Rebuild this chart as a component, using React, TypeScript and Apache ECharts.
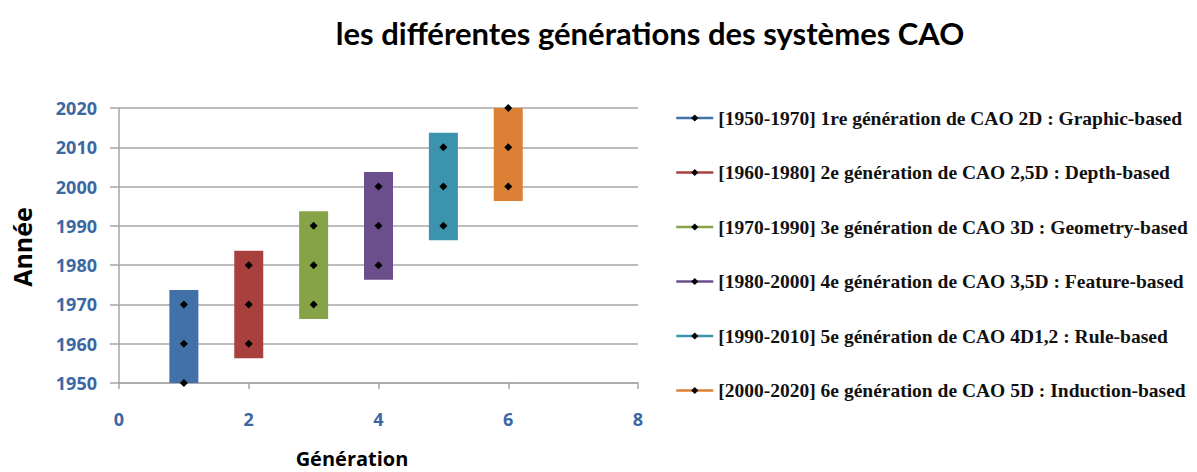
import React, { useEffect, useRef } from "react";
import * as echarts from "echarts";

const titleText = "les différentes générations des systèmes CAO";
const xAxisTitle = "Génération";
const yAxisTitle = "Année";

const generations = [1, 2, 3, 4, 5, 6];
const seriesNames = [
  "[1950-1970] 1re génération de CAO 2D : Graphic-based",
  "[1960-1980] 2e génération de CAO 2,5D : Depth-based",
  "[1970-1990] 3e génération de CAO 3D : Geometry-based",
  "[1980-2000] 4e génération de CAO 3,5D : Feature-based",
  "[1990-2010] 5e génération de CAO 4D1,2 : Rule-based",
  "[2000-2020] 6e génération de CAO 5D : Induction-based",
];
const seriesYears = [
  [1950, 1960, 1970],
  [1960, 1970, 1980],
  [1970, 1980, 1990],
  [1980, 1990, 2000],
  [1990, 2000, 2010],
  [2000, 2010, 2020],
];
const seriesColors = ["#4270a8", "#a8403e", "#86a447", "#6b4f8c", "#3b93ad", "#dc8035"];

const xMin = 0, xMax = 8, xStep = 2;
const yMin = 1950, yMax = 2020, yStep = 10;

const labelColor = "#3b67a3";
const gridColor = "#a6a6a6";
const barHalfWidth = 14.5;

export default function App() {
  const ref = useRef<HTMLDivElement>(null);
  useEffect(() => {
    document.body.style.margin = "0";
    if (!ref.current) return;
    const chart = echarts.init(ref.current, undefined, { renderer: "svg" });

    const barSeries = generations.map((g, i) => ({
      type: "custom",
      name: "bar" + i,
      coordinateSystem: "cartesian2d",
      z: 2,
      silent: true,
      data: [[g, Math.min(...seriesYears[i]), Math.max(...seriesYears[i])]],
      renderItem: (params: any, api: any) => {
        const x = api.value(0);
        const lo = api.value(1);
        const hi = api.value(2);
        const pTop = api.coord([x, hi]);
        const pBot = api.coord([x, lo]);
        const rect = {
          x: pTop[0] - barHalfWidth,
          y: pTop[1] - barHalfWidth,
          width: barHalfWidth * 2,
          height: pBot[1] - pTop[1] + barHalfWidth * 2,
        };
        const cs = params.coordSys;
        const clipped = echarts.graphic.clipRectByRect(rect, {
          x: cs.x, y: cs.y, width: cs.width, height: cs.height,
        });
        if (!clipped) return null;
        return { type: "rect", shape: clipped, style: { fill: seriesColors[i] } };
      },
    }));

    const lineSeries = generations.map((g, i) => ({
      type: "line",
      name: seriesNames[i],
      z: 5,
      clip: false,
      data: seriesYears[i].map((y) => [g, y]),
      symbol: "diamond",
      symbolSize: 8,
      itemStyle: { color: "#000" },
      lineStyle: { color: seriesColors[i], width: 0 },
    }));

    chart.setOption({
      animation: false,
      grid: { left: 119, top: 108, width: 519, height: 275 },
      xAxis: {
        type: "value",
        min: xMin, max: xMax, interval: xStep,
        splitLine: { show: false },
        axisLine: { show: true, lineStyle: { color: gridColor, width: 1.5 } },
        axisTick: { show: true, length: 6, lineStyle: { color: gridColor, width: 1.5 } },
        axisLabel: {
          margin: 27, color: labelColor, fontFamily: "Open Sans", fontWeight: "bold", fontSize: 18,
          formatter: (v: number) => String(v),
        },
      },
      yAxis: {
        type: "value",
        min: yMin, max: yMax, interval: yStep,
        splitLine: { show: true, lineStyle: { color: gridColor, width: 1.5 } },
        axisLine: { show: true, lineStyle: { color: gridColor, width: 1.5 } },
        axisTick: { show: true, length: 9, lineStyle: { color: gridColor, width: 1.5 } },
        axisLabel: {
          margin: 22, color: labelColor, fontFamily: "Open Sans", fontWeight: "bold", fontSize: 18,
          formatter: (v: number) => String(v),
        },
      },
      legend: {
        orient: "vertical",
        left: 675,
        top: 108,
        padding: 0,
        itemWidth: 37,
        itemHeight: 9,
        itemGap: 34.5,
        selectedMode: false,
        textStyle: {
          fontFamily: "Liberation Serif", fontWeight: "bold", fontSize: 19.5, color: "#111", lineHeight: 20,
        },
        data: seriesNames.map((n, i) => ({
          name: n,
          itemStyle: { color: "#000", borderWidth: 0 },
          lineStyle: { color: seriesColors[i], width: 2.5 },
        })),
      },
      graphic: [
        {
          type: "text", x: 650, y: 33,
          style: {
            text: titleText, fontFamily: "Lato", fontWeight: "bold", fontSize: 31, fill: "#000",
            textAlign: "center", textVerticalAlign: "middle",
          },
        },
        {
          type: "text", x: 352, y: 458,
          style: {
            text: xAxisTitle, fontFamily: "Open Sans", fontWeight: "bold", fontSize: 20, fill: "#000",
            textAlign: "center", textVerticalAlign: "middle",
          },
        },
        {
          type: "text", x: 22, y: 247, rotation: Math.PI / 2,
          style: {
            text: yAxisTitle, fontFamily: "Open Sans", fontWeight: "bold", fontSize: 25, fill: "#000",
            textAlign: "center", textVerticalAlign: "middle",
          },
        },
      ],
      series: [...barSeries, ...lineSeries],
    });
    return () => chart.dispose();
  }, []);
  return <div ref={ref} style={{ width: 1197, height: 472 }} />;
}
